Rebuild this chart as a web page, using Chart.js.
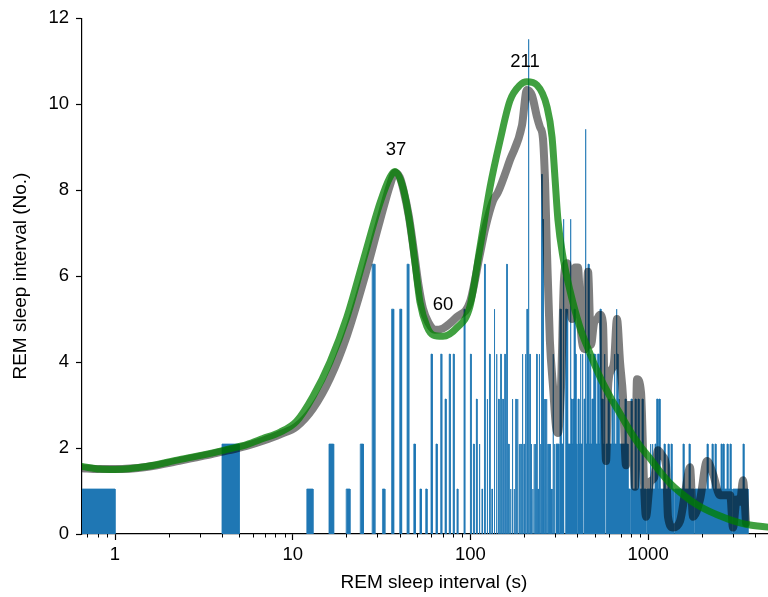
<!DOCTYPE html>
<html><head><meta charset="utf-8">
<script src="https://cdn.jsdelivr.net/npm/chart.js@4.4.1/dist/chart.umd.min.js"></script>
<style>html,body{margin:0;padding:0;background:#fff;overflow:hidden;width:768px;height:597px;}canvas{display:block;}</style>
</head><body>
<canvas id="c" width="786" height="597"></canvas>
<script>
// ---- data ----
const xTickValues = [1, 10, 100, 1000];
const yTickStep = 2;
const unitHeight = 1.046;           // height of one count on the y axis

// individual 1-s histogram bins (left edge in s, count)
const sparseLeft = [0,4,12,16,20,24,28,32,36,40, 44,48,52,56,60,64,68,72,76,80,
  84,92,100,104,108,112,116,120,124,128, 132,136,140,144,148,152,156,160,164,168,
  172,176,180,184,188,192,196,200,204,208, 212,216,220,224,228,232,236,240,244,248,
  252,256,260,264,268,272,276,280,284,288, 292,296];
const sparseCount = [1,2,1,2,1,2,6,1,5,5, 6,2,1,1,4,2,4,3,4,4,
  1,5,4,2,3,2,1,6,3,4, 1,5,4,3,4,3,4,6,2,1,
  3,1,3,3,2,2,4,2,4,5, 11,4,2,1,2,2,4,1,4,2,
  8,7,3,3,3,2,2,2,1,1, 4,2];

// dense part of the histogram as a step profile (edge in s, count until next edge)
const denseEdge = [303,315,319,324,332,336,341,345,350,354,
  364,368,373,378,383,388,393,398,403,408,
  414,419,425,430,436,442,447,453,459,465,
  471,477,483,490,496,503,509,516,522,529,
  536,543,550,557,565,572,580,595,603,626,
  635,643,651,660,668,677,686,741,751,771,
  791,801,812,844,855,877,889,924,936,973,
  986,1025,1038,1052,1065,1093,1108,1122,1137,1152,
  1167,1229,1245,1294,1311,1345,1363,1398,1417,1571,
  1592,1698,1721,1812,1836,2145,2173,2288,2318,2379,
  2410,2571,2605,2639,2673,2779,2815,2889,2927,2965,
  3004,3419,3463,3648];
const denseCount = [2,0,5,2,7,0,3,5,4,2,
  7,3,2,3,5,4,2,0,3,2,
  4,2,4,0,3,9,2,4,6,2,
  4,2,3,3,4,3,2,3,4,2,
  5,3,3,2,4,0,2,3,2,3,
  2,4,2,5,4,3,2,3,2,1,
  0,3,1,3,1,3,1,3,1,0,
  1,2,1,2,1,2,1,3,1,3,
  1,2,1,2,1,2,1,0,1,2,
  1,2,1,0,1,2,1,2,1,2,
  1,2,1,2,1,2,1,2,1,0,
  1,2,1,0];

// smoothed histogram (grey)
const grayX = [0.652,0.8,1.0,1.5,2.3,3.5,4.4,5.5,6.8,8.5,
  10.5,13,16.2,20.2,24.9,31,35.3,37.6,40,42,
  45,48,51,54,58,63,70,84,99.5,113,
  121,134,143,167,195,208,222,237,246,256,
  263,270,280,292,303,311,324,336,350,364,
  373,388,403,419,442,459,477,496,516,536,
  557,580,595,618,643,668,695,722,751,771,
  812,844,866,912,948,973,1025,1080,1137,1213,
  1261,1294,1381,1512,1634,1721,1789,1959,2146,2318,
  2538,2780,2900,3004,3150,3291,3420,3556];
const grayY = [1.53,1.51,1.51,1.56,1.70,1.86,1.95,2.05,2.17,2.32,
  2.5,2.92,3.62,4.62,5.85,7.3,8.12,8.4,8.3,8.0,
  7.4,6.6,5.8,5.25,4.92,4.75,4.78,5.05,5.4,6.5,
  7.1,7.75,7.95,8.7,9.5,10.33,10.2,9.7,9.47,9.2,
  8.2,6.5,4.5,3.4,2.5,2.35,3.5,5.9,6.3,5.4,
  5.0,6.2,6.2,4.7,4.3,6.1,4.4,4.9,5.0,5.1,
  4.9,1.7,3.4,3.8,4.0,5.0,4.0,3.2,1.6,3.0,
  3.0,1.1,3.6,3.3,1.2,0.4,1.2,1.3,1.95,1.8,
  1.6,0.4,0.15,0.3,1.1,1.55,0.4,0.8,1.7,1.4,
  0.9,0.9,0.9,0.15,0.8,0.75,1.25,0.25];

// fitted curve (green)
const fitX = [0.652,0.82,1.0,1.5,2.3,3.5,4.4,5.5,6.8,8.5,
  10.5,13,16.2,20.2,24.9,31,35.3,37.6,41.8,45.7,
  48.8,52,57,61.6,70,84,99.5,113,129,147,
  167,190,208,237,270,288,299,311,332,364,
  414,471,536,610,695,791,900,1025,1167,1328,
  1512,1721,1959,2230,2540,2891,3290,3746,4728,5970];
const fitY = [1.57,1.51,1.50,1.57,1.73,1.88,1.98,2.08,2.22,2.37,
  2.62,3.2,4.0,5.05,6.35,7.7,8.3,8.43,8.05,7.2,
  6.3,5.4,4.82,4.63,4.6,4.8,5.3,6.65,8.07,9.16,
  10.08,10.44,10.52,10.44,9.93,9.23,8.3,7.3,6.44,5.65,
  4.8,4.2,3.65,3.2,2.8,2.4,2.05,1.76,1.45,1.18,
  0.97,0.79,0.64,0.52,0.42,0.33,0.26,0.21,0.16,0.13];

// peak labels
const annText = ['37', '60', '211'];
const annX = [38.1, 70.1, 203];
const annY = [8.93, 5.33, 10.98];

const X_MIN = 0.652, X_MAX = 5970, Y_MIN = 0, Y_MAX = 12;

// ---- build datasets ----
const barPts = [];
sparseLeft.forEach((l, i) => {
  const L = Math.max(l, X_MIN), R = l + 1, h = sparseCount[i] * unitHeight;
  barPts.push({x: L, y: 0}, {x: L, y: h}, {x: R, y: h}, {x: R, y: 0});
});
barPts.push({x: denseEdge[0], y: 0});
for (let i = 0; i < denseEdge.length - 1; i++) {
  const h = denseCount[i] * unitHeight;
  barPts.push({x: denseEdge[i], y: h}, {x: denseEdge[i + 1], y: h});
}
barPts.push({x: denseEdge[denseEdge.length - 1], y: 0});

const grayPts = grayX.map((x, i) => ({x, y: grayY[i]}));
const fitPts = fitX.map((x, i) => ({x, y: fitY[i]}));

const FONT = '"Liberation Sans", Arial, Helvetica, sans-serif';
Chart.defaults.font.family = FONT;
Chart.defaults.color = '#000';

const minorTicks = {
  id: 'minorTicks',
  afterDraw(chart) {
    const xs = chart.scales.x, ctx = chart.ctx;
    ctx.save();
    ctx.strokeStyle = '#000';
    ctx.lineWidth = 1;
    for (let k = -1; k <= 3; k++) {
      for (let m = 2; m <= 9; m++) {
        const v = m * Math.pow(10, k);
        if (v <= X_MIN || v >= X_MAX) continue;
        const px = Math.round(xs.getPixelForValue(v)) + 0.5;
        ctx.beginPath();
        ctx.moveTo(px, xs.top);
        ctx.lineTo(px, xs.top + 3.5);
        ctx.stroke();
      }
    }
    ctx.restore();
  }
};

const peakLabels = {
  id: 'peakLabels',
  afterDatasetsDraw(chart) {
    const {ctx, scales: {x, y}} = chart;
    ctx.save();
    ctx.font = '18.5px ' + FONT;
    ctx.fillStyle = '#000';
    ctx.textAlign = 'center';
    ctx.textBaseline = 'middle';
    annText.forEach((t, i) => ctx.fillText(t, x.getPixelForValue(annX[i]), y.getPixelForValue(annY[i])));
    ctx.restore();
  }
};

new Chart(document.getElementById('c'), {
  type: 'line',
  data: {
    datasets: [
      {
        label: 'fit', data: fitPts, order: 0,
        borderColor: 'rgba(0,128,0,0.75)', borderWidth: 7,
        cubicInterpolationMode: 'monotone', pointRadius: 0, fill: false,
        borderCapStyle: 'round', borderJoinStyle: 'round'
      },
      {
        label: 'smoothed', data: grayPts, order: 1,
        borderColor: 'rgba(0,0,0,0.5)', borderWidth: 8,
        cubicInterpolationMode: 'monotone', pointRadius: 0, fill: false,
        borderCapStyle: 'round', borderJoinStyle: 'round'
      },
      {
        label: 'histogram', data: barPts, order: 2,
        borderColor: '#1f77b4', backgroundColor: '#1f77b4', borderWidth: 0.8,
        tension: 0, pointRadius: 0, fill: 'origin',
        segment: {
          borderColor: c => (c.p0.parsed.y === 0 && c.p1.parsed.y === 0) ? 'rgba(0,0,0,0)' : undefined
        }
      }
    ]
  },
  options: {
    responsive: false,
    animation: false,
    events: [],
    layout: {padding: {top: 18, right: 0, left: 0, bottom: 0}},
    plugins: {legend: {display: false}, tooltip: {enabled: false}},
    scales: {
      x: {
        type: 'logarithmic', min: X_MIN, max: X_MAX, bounds: 'data',
        afterBuildTicks: s => { s.ticks = xTickValues.map(v => ({value: v, major: true})); },
        afterFit: s => { s.height = 63; },
        ticks: {autoSkip: false, maxRotation: 0, padding: 4, font: {size: 18.5}, color: '#000',
          callback: v => String(v)},
        grid: {drawOnChartArea: false, drawTicks: true, tickLength: 6, tickColor: '#000', tickWidth: 1.2},
        border: {display: true, color: '#000', width: 1.2},
        title: {display: true, text: 'REM sleep interval (s)', font: {size: 19}, color: '#000',
          padding: {top: 0, bottom: 3}}
      },
      y: {
        type: 'linear', min: Y_MIN, max: Y_MAX,
        afterFit: s => { s.width = 82; },
        ticks: {stepSize: yTickStep, padding: 7, font: {size: 18.5}, color: '#000'},
        grid: {drawOnChartArea: false, drawTicks: true, tickLength: 6, tickColor: '#000', tickWidth: 1.2},
        border: {display: true, color: '#000', width: 1.2},
        title: {display: true, text: 'REM sleep interval (No.)', font: {size: 19}, color: '#000',
          padding: {top: 9, bottom: 0}}
      }
    }
  },
  plugins: [minorTicks, peakLabels]
});
</script>
</body></html>
